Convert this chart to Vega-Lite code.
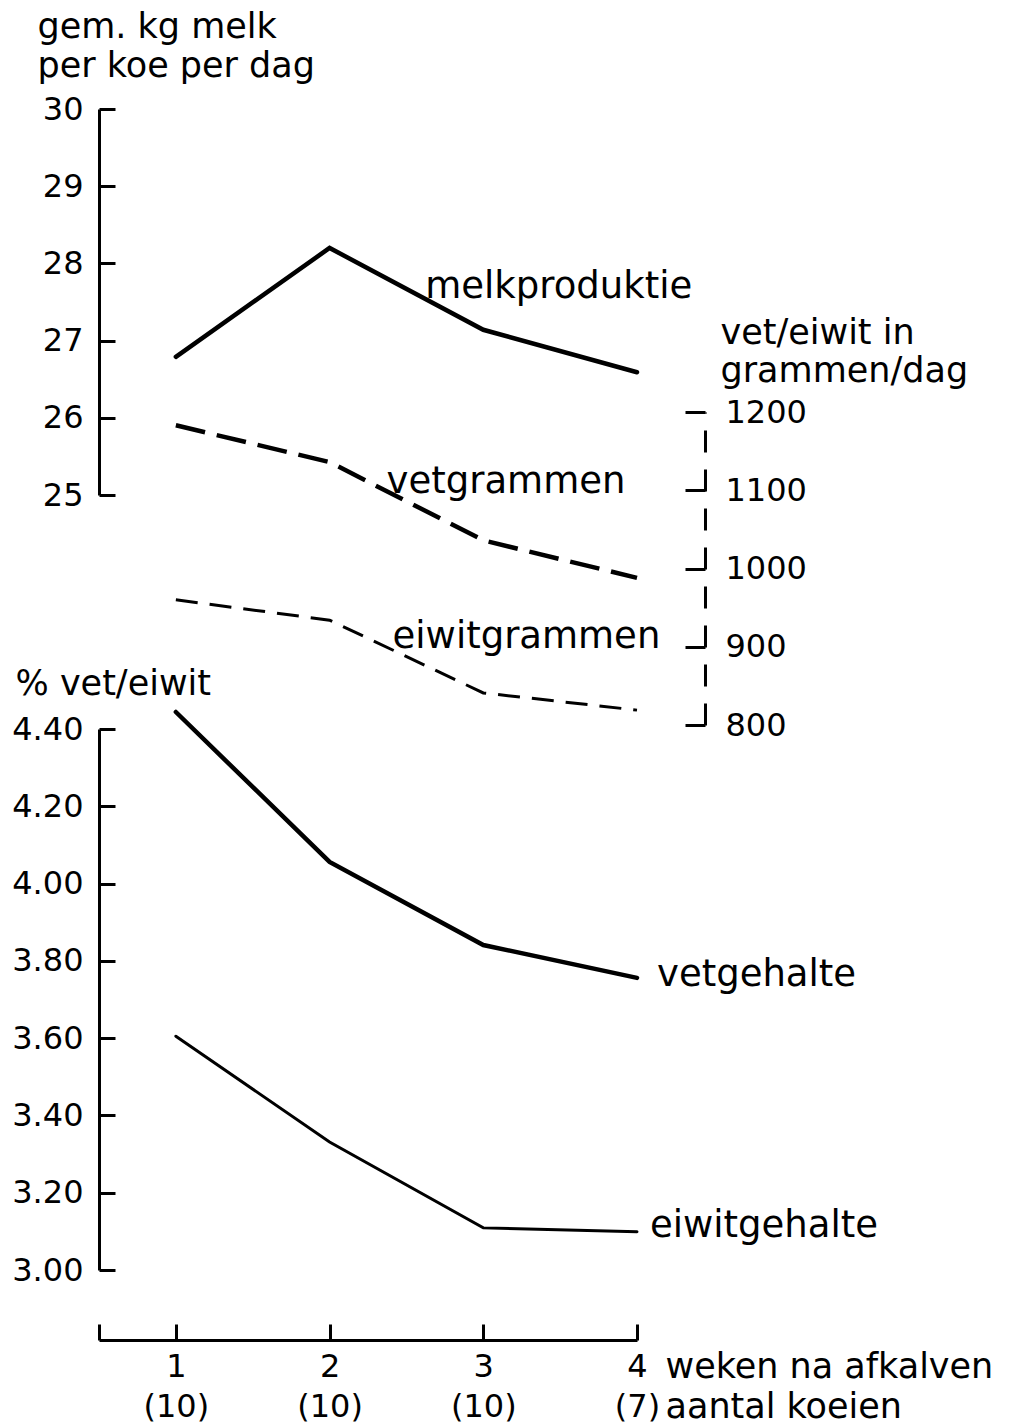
{
  "$schema": "https://vega.github.io/schema/vega-lite/v6.json",
  "width": 538,
  "height": 1231,
  "autosize": {"type": "none"},
  "padding": {"left": 99, "top": 109, "right": 377, "bottom": 85},
  "background": "white",
  "config": {
    "view": {"stroke": null},
    "font": "DejaVu Sans",
    "axis": {
      "grid": false,
      "domainColor": "black",
      "tickColor": "black",
      "labelColor": "black",
      "titleColor": "black",
      "labelFont": "DejaVu Sans",
      "titleFont": "DejaVu Sans",
      "labelFontSize": 32,
      "titleFontSize": 35,
      "titleFontWeight": "normal",
      "domainWidth": 3,
      "tickWidth": 3,
      "labelFlush": false,
      "labelOverlap": false
    }
  },
  "data": {
    "values": [
      {"week": 1, "serie": "melkproduktie", "value": 26.79},
      {"week": 2, "serie": "melkproduktie", "value": 28.2},
      {"week": 3, "serie": "melkproduktie", "value": 27.14},
      {"week": 4, "serie": "melkproduktie", "value": 26.59},
      {"week": 1, "serie": "vetgrammen", "value": 1183},
      {"week": 2, "serie": "vetgrammen", "value": 1136},
      {"week": 3, "serie": "vetgrammen", "value": 1036},
      {"week": 4, "serie": "vetgrammen", "value": 988},
      {"week": 1, "serie": "eiwitgrammen", "value": 960},
      {"week": 2, "serie": "eiwitgrammen", "value": 934},
      {"week": 3, "serie": "eiwitgrammen", "value": 841},
      {"week": 4, "serie": "eiwitgrammen", "value": 819},
      {"week": 1, "serie": "vetgehalte", "value": 4.444},
      {"week": 2, "serie": "vetgehalte", "value": 4.056},
      {"week": 3, "serie": "vetgehalte", "value": 3.841},
      {"week": 4, "serie": "vetgehalte", "value": 3.756},
      {"week": 1, "serie": "eiwitgehalte", "value": 3.605},
      {"week": 2, "serie": "eiwitgehalte", "value": 3.331},
      {"week": 3, "serie": "eiwitgehalte", "value": 3.109},
      {"week": 4, "serie": "eiwitgehalte", "value": 3.099}
    ]
  },
  "encoding": {
    "x": {
      "field": "week",
      "type": "quantitative",
      "scale": {"domain": [0.5, 4], "nice": false, "zero": false},
      "axis": {
        "values": [0.5, 1, 2, 3, 4],
        "tickSize": -16,
        "labelPadding": 27,
        "labelExpr": "datum.value < 0.9 ? '' : ['' + datum.value, datum.value == 4 ? '(7)' : '(10)']",
        "labelLineHeight": 40,
        "title": ["weken na afkalven", "aantal koeien"],
        "titleX": 566,
        "titleY": 37,
        "titleAlign": "left",
        "titleBaseline": "alphabetic",
        "titleLineHeight": 40,
        "titleAngle": 0
      }
    }
  },
  "layer": [
    {
      "encoding": {
        "y": {
          "field": "value",
          "type": "quantitative",
          "scale": {"domain": [25, 30], "range": [386, 0], "nice": false, "zero": false},
          "axis": {
            "orient": "left",
            "values": [25, 26, 27, 28, 29, 30],
            "labelExpr": "'' + datum.value",
            "tickSize": -16,
            "labelPadding": 32,
            "title": ["gem. kg melk", "per koe per dag"],
            "titleAngle": 0,
            "titleAlign": "left",
            "titleBaseline": "alphabetic",
            "titleX": -62,
            "titleY": -72,
            "titleLineHeight": 39
          }
        }
      },
      "layer": [
        {
          "transform": [{"filter": "datum.serie == 'melkproduktie'"}],
          "mark": {"type": "line", "color": "black", "strokeWidth": 4.5, "strokeCap": "round"}
        },
        {
          "transform": [{"filter": "datum.serie == 'melkproduktie' && datum.week == 3"}],
          "mark": {"type": "text", "align": "left", "baseline": "middle", "dx": -58, "dy": -43, "fontSize": 37, "color": "black"},
          "encoding": {"text": {"field": "serie"}}
        }
      ]
    },
    {
      "encoding": {
        "y": {
          "field": "value",
          "type": "quantitative",
          "scale": {"domain": [800, 1200], "range": [616, 303], "nice": false, "zero": false},
          "axis": {
            "orient": "right",
            "offset": 68,
            "values": [800, 900, 1000, 1100, 1200],
            "labelExpr": "'' + datum.value",
            "tickSize": -20,
            "labelPadding": 40,
            "domainDash": [22, 17],
            "title": ["vet/eiwit in", "grammen/dag"],
            "titleAngle": 0,
            "titleAlign": "left",
            "titleBaseline": "alphabetic",
            "titleX": 15,
            "titleY": 234,
            "titleLineHeight": 38
          }
        }
      },
      "layer": [
        {
          "transform": [{"filter": "datum.serie == 'vetgrammen'"}],
          "mark": {"type": "line", "color": "black", "strokeWidth": 4.5, "strokeDash": [30, 12]}
        },
        {
          "transform": [{"filter": "datum.serie == 'eiwitgrammen'"}],
          "mark": {"type": "line", "color": "black", "strokeWidth": 3, "strokeDash": [22, 12]}
        },
        {
          "transform": [{"filter": "datum.serie == 'vetgrammen' && datum.week == 2"}],
          "mark": {"type": "text", "align": "left", "baseline": "middle", "dx": 57, "dy": 20, "fontSize": 37, "color": "black"},
          "encoding": {"text": {"field": "serie"}}
        },
        {
          "transform": [{"filter": "datum.serie == 'eiwitgrammen' && datum.week == 2"}],
          "mark": {"type": "text", "align": "left", "baseline": "middle", "dx": 63, "dy": 17, "fontSize": 37, "color": "black"},
          "encoding": {"text": {"field": "serie"}}
        }
      ]
    },
    {
      "encoding": {
        "y": {
          "field": "value",
          "type": "quantitative",
          "scale": {"domain": [3, 4.4], "range": [1161, 620], "nice": false, "zero": false},
          "axis": {
            "orient": "left",
            "values": [3, 3.2, 3.4, 3.6, 3.8, 4, 4.2, 4.4],
            "format": ".2f",
            "tickSize": -16,
            "labelPadding": 32,
            "title": "% vet/eiwit",
            "titleAngle": 0,
            "titleAlign": "left",
            "titleBaseline": "alphabetic",
            "titleX": -84,
            "titleY": 585
          }
        }
      },
      "layer": [
        {
          "transform": [{"filter": "datum.serie == 'vetgehalte'"}],
          "mark": {"type": "line", "color": "black", "strokeWidth": 4.5, "strokeCap": "round"}
        },
        {
          "transform": [{"filter": "datum.serie == 'eiwitgehalte'"}],
          "mark": {"type": "line", "color": "black", "strokeWidth": 3, "strokeCap": "round"}
        },
        {
          "transform": [{"filter": "datum.serie == 'vetgehalte' && datum.week == 4"}],
          "mark": {"type": "text", "align": "left", "baseline": "middle", "dx": 20, "dy": -3, "fontSize": 37, "color": "black"},
          "encoding": {"text": {"field": "serie"}}
        },
        {
          "transform": [{"filter": "datum.serie == 'eiwitgehalte' && datum.week == 4"}],
          "mark": {"type": "text", "align": "left", "baseline": "middle", "dx": 13, "dy": -6, "fontSize": 37, "color": "black"},
          "encoding": {"text": {"field": "serie"}}
        }
      ]
    }
  ],
  "resolve": {"scale": {"y": "independent"}, "axis": {"y": "independent"}}
}
